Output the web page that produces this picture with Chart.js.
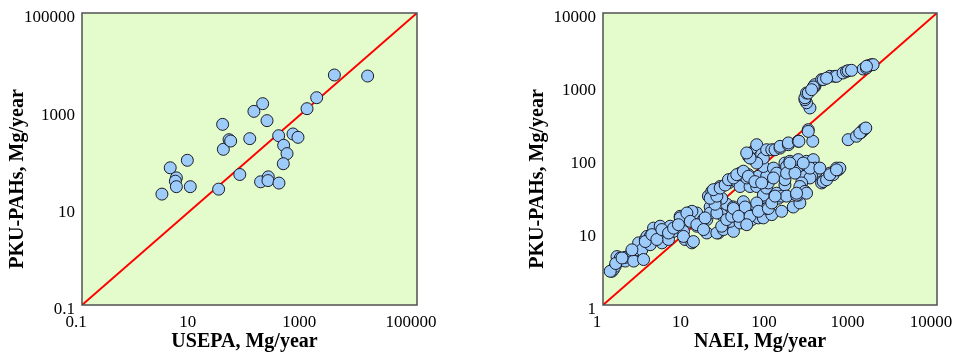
<!DOCTYPE html>
<html>
<head>
<meta charset="utf-8">
<script src="https://cdn.jsdelivr.net/npm/chart.js@4.4.0/dist/chart.umd.min.js"></script>
<style>
  html, body { margin: 0; padding: 0; background: #fff; overflow: hidden; }
  #izq { position: absolute; left: 0; top: 0; width: 480px; height: 356px; }
  #der { position: absolute; left: 480px; top: 0; width: 475px; height: 356px; }
</style>
</head>
<body>
<div id="izq"><canvas id="graficaUsepa"></canvas></div>
<div id="der"><canvas id="graficaNaei"></canvas></div>
<script>
// left panel: USEPA vs PKU-PAHs (Mg/year)
const usepaX = [2.7, 3.8, 7.7, 4.9, 4.7, 4.9, 8.7, 28, 33, 34,
                43, 46, 67, 101, 120, 172, 206, 158, 217, 214,
                337, 333, 409, 470, 403, 601, 739, 1072, 1596, 3311, 13060];
const pkuUsepaY = [19, 66, 94, 41, 35, 27, 27, 24, 515, 158,
                   249, 234, 48, 262, 953, 1371, 614, 34, 43, 36,
                   32, 301, 191, 129, 80, 327, 279, 1081, 1820, 5321, 5070];

// right panel: NAEI vs PKU-PAHs (Mg/year)
const naeiX = [1.28, 1.34, 1.40, 1.47, 1.47, 1.61, 1.85, 1.85, 2.22, 2.33,
               2.55, 2.67, 2.92, 3.06, 3.21, 3.36, 3.68, 3.68, 4.03, 4.42,
               4.84, 5.07, 5.56, 6.09, 6.38, 7.0, 7.66, 8.4, 9.2, 9.6,
               10.6, 11.6, 8.4, 9.2, 12.1, 13.3, 14.6, 14.6, 17.5, 17.5,
               19.2, 22, 21, 24.1, 23.1, 27.7, 29, 30.3, 36.5, 13.3,
               11.6, 16, 19.2, 26.4, 33.3, 40, 48, 43.8, 50.3, 60.4,
               72.6, 83.2, 105, 138, 190, 228, 60.4, 79.5, 95.5, 91.2,
               52.6, 48, 34.8, 30.3, 36.5, 26.4, 22, 18.3, 20.1, 24.1,
               25.3, 31.8, 33.3, 38.2, 40, 43.8, 43.8, 55.1, 57.7, 52.6,
               69.3, 72.6, 69.3, 83.2, 91.2, 95.5, 100, 91.2, 83.2, 110,
               120, 115, 126, 120, 138, 151, 151, 158, 151, 158,
               173, 208, 218, 262, 274, 315, 330, 345, 361, 208,
               262, 315, 301, 239, 228, 218, 208, 262, 274, 415,
               434, 476, 521, 571, 626, 656, 687, 55.1, 60.4, 63.2,
               69.3, 69.3, 75.9, 79.5, 83.2, 91.2, 105, 115, 132, 132,
               166, 166, 218, 222, 287, 325, 287, 301, 274, 262,
               262, 274, 287, 345, 345, 415, 434, 521, 598, 626,
               750, 825, 863, 1306, 1430, 1500, 1641, 863, 1086, 1240,
               1306, 1366,
               1.22, 1.42, 1.69, 2.22, 3.21, 3.85, 4.42, 5.07, 6.09, 7.0,
               8.0, 10.1, 11.1, 13.3, 16.7, 16.0, 23.1, 26.4, 30.3, 34.8,
               22, 19.2, 23.1, 21, 25.3, 29, 31.8, 36.5, 40, 48,
               55.1, 66, 79.5, 110, 69.3, 50.3, 36.5, 42, 57.7, 52.6,
               72.6, 95.5, 105, 115, 158, 199, 208, 301, 396, 521,
               626, 173, 250, 69.3, 57.7, 52.6, 330, 315, 476, 946,
               1718, 1430, 1191, 1404];
const pkuNaeiY = [2.9, 3.1, 3.4, 3.8, 4.6, 4.4, 4.0, 4.5, 5.4, 4.0,
                  5.7, 7.1, 5.7, 4.2, 7.9, 8.7, 8.7, 6.7, 11.3, 8.3,
                  12.0, 7.1, 9.7, 7.9, 12.0, 10.2, 12.0, 16.4, 10.2, 7.9,
                  18.2, 7.1, 15.6, 8.7, 7.4, 12.0, 13.3, 14.0, 14.8, 9.7,
                  22, 28, 32, 9.7, 9.7, 10.8, 18.2, 13.3, 10.2, 18.2,
                  19.2, 14.8, 18.2, 17.3, 14.0, 16.4, 13.3, 13.3, 18.2, 14.8,
                  15.6, 15.6, 17.3, 19.2, 22, 25, 21, 22, 24, 21,
                  18.2, 26, 22, 24, 22, 29, 26, 31, 36, 40,
                  42, 47, 52, 52, 49, 64, 42, 61, 42, 55,
                  55, 58, 42, 32, 40, 47, 58, 58, 79, 75,
                  64, 32, 29, 34, 31, 44, 52, 31, 88, 79,
                  93, 93, 98, 84, 93, 88, 98, 75, 68, 68,
                  58, 58, 55, 47, 42, 32, 32, 36, 34, 47,
                  49, 52, 64, 61, 75, 71, 75, 109, 103, 127,
                  141, 157, 109, 115, 103, 134, 134, 134, 141, 149,
                  157, 166, 175, 175, 252, 175, 239, 500, 590, 650,
                  690, 802, 802, 990, 1043, 1222, 1222, 1357, 1357, 1357,
                  1507, 1588, 1620, 1710, 1765, 1900, 1960, 184, 205, 232,
                  252, 258,
                  2.9, 3.7, 4.4, 5.7, 7.4, 9.2, 7.9, 10.8, 9.7, 11.3,
                  12.6, 18.2, 14.0, 12.6, 15.6, 10.8, 18.2, 12.0, 14.8, 16.4,
                  24, 29, 31, 38, 40, 44, 52, 55, 61, 68,
                  58, 49, 47, 55, 25, 22, 21, 16.4, 16.4, 12.6,
                  19.2, 21, 25, 31, 64, 64, 34, 75, 75, 61,
                  71, 88, 88, 88, 103, 121, 970, 890, 1280, 1640,
                  1960, 1860, 227, 266];

// tick labels and 1:1 line ends
const ticksUsepa = [0.1, 10, 1000, 100000];
const ticksNaei = [1, 10, 100, 1000, 10000];
const lineaUsepa = [0.1, 100000];
const lineaNaei = [1, 10000];

const serif = "'Liberation Serif', 'Times New Roman', serif";

// green plot background and dark frame
const fondoArea = {
    id: 'fondoArea',
    beforeDatasetsDraw(chart) {
        const {ctx, chartArea: a} = chart;
        ctx.save();
        ctx.fillStyle = '#e4fccb';
        ctx.fillRect(a.left, a.top, a.right - a.left, a.bottom - a.top);
        ctx.restore();
    },
    afterDatasetsDraw(chart) {
        const {ctx, chartArea: a} = chart;
        ctx.save();
        ctx.strokeStyle = '#505050';
        ctx.lineWidth = 1.5;
        ctx.strokeRect(a.left, a.top, a.right - a.left, a.bottom - a.top);
        ctx.restore();
    }
};

// trailing spaces nudge the centred titles a little, as in the original
function crearGrafica(id, xs, ys, linea, marcas, tituloX, ancho, derecha, padTitulo) {
    const puntos = xs.map((x, i) => ({x: x, y: ys[i]}));
    const diagonal = linea.map(v => ({x: v, y: v}));
    const eje = (tituloTexto) => ({
        type: 'logarithmic',
        min: linea[0],
        max: linea[1],
        grid: {display: false, drawTicks: false},
        border: {display: false},
        afterBuildTicks: s => { s.ticks = marcas.map(v => ({value: v})); },
        ticks: {
            color: '#000',
            font: {family: serif, size: 17},
            autoSkip: false,
            maxRotation: 0,
            callback: v => String(v)
        },
        title: {
            display: true,
            text: tituloTexto,
            color: '#000',
            font: {family: serif, size: 20, weight: 'bold'}
        }
    });

    const ejeX = eje(tituloX);
    ejeX.afterFit = s => { s.height = 51; s.paddingLeft = 0; s.paddingRight = 0; };
    ejeX.ticks.padding = 7;
    ejeX.ticks.labelOffset = -6;
    ejeX.title.padding = {top: 0, bottom: 2};

    const ejeY = eje('PKU-PAHs, Mg/year' + '        ');
    ejeY.afterFit = s => { s.width = ancho; s.paddingTop = 0; s.paddingBottom = 0; };
    ejeY.ticks.padding = 7;
    ejeY.ticks.labelOffset = 5;
    ejeY.title.padding = {top: padTitulo, bottom: 0};

    new Chart(document.getElementById(id), {
        type: 'scatter',
        data: {
            datasets: [
                {
                    data: puntos,
                    backgroundColor: '#9dcbfa',
                    borderColor: '#1c1c28',
                    borderWidth: 1,
                    pointRadius: 6,
                    order: 1
                },
                {
                    type: 'line',
                    data: diagonal,
                    borderColor: '#ff0000',
                    borderWidth: 2,
                    pointRadius: 0,
                    order: 2
                }
            ]
        },
        options: {
            animation: false,
            responsive: true,
            maintainAspectRatio: false,
            layout: {padding: {left: 0, right: derecha, top: 13, bottom: 0}},
            plugins: {legend: {display: false}, tooltip: {enabled: false}},
            scales: {x: ejeX, y: ejeY}
        },
        plugins: [fondoArea]
    });
}

crearGrafica('graficaUsepa', usepaX, pkuUsepaY, lineaUsepa, ticksUsepa, 'USEPA, Mg/year  ', 82, 63, 6);
crearGrafica('graficaNaei', naeiX, pkuNaeiY, lineaNaei, ticksNaei, 'NAEI, Mg/year    ', 123, 18, 46);
</script>
</body>
</html>
